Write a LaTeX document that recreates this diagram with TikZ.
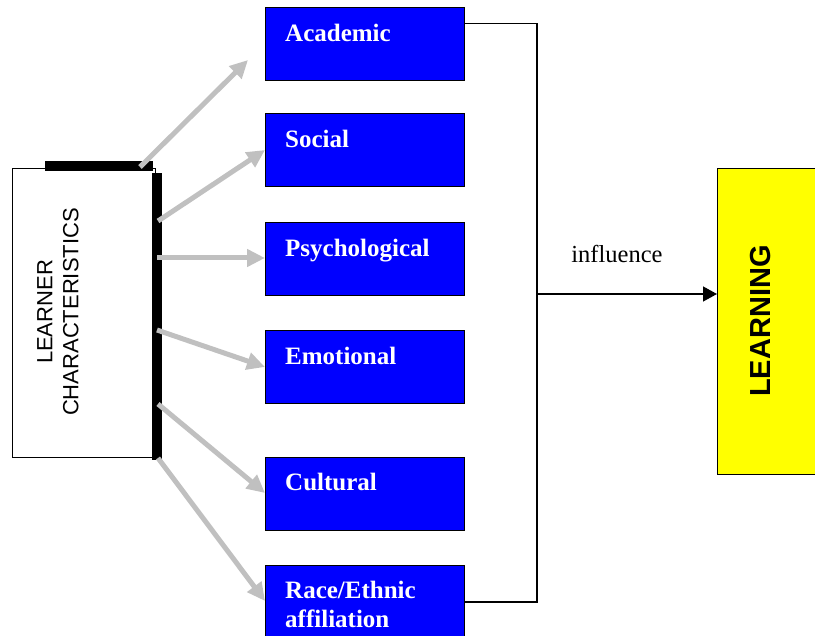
\documentclass[tikz,border=0pt]{standalone}
\usepackage{fontspec}
\setmainfont{Liberation Serif}
\setsansfont{Liberation Sans}
\usetikzlibrary{arrows.meta}
\definecolor{arrowgrey}{RGB}{192,192,192}
\definecolor{factorblue}{RGB}{0,0,255}
\definecolor{learnyellow}{RGB}{255,255,0}
\begin{document}
\begin{tikzpicture}[x=1pt,y=-1pt,
  factor/.style={draw=black, line width=1.3pt, fill=factorblue, minimum width=199pt,
    minimum height=73pt, inner sep=0pt, anchor=north west},
  factortext/.style={text=white, font=\fontsize{25}{29}\selectfont\bfseries,
    anchor=base west, align=left, inner sep=0pt},
  feed/.style={draw=arrowgrey, line width=5pt,
    -{Triangle[length=18pt,width=17pt]}},
  joinline/.style={draw=black, line width=1.3pt},
]
\useasboundingbox (0,0) rectangle (815,636);
\clip (0,0) rectangle (815,636);

% learner characteristics box with its shadow bars
\node[draw=black, line width=1.2pt, fill=white, minimum width=143pt,
  minimum height=289pt, inner sep=0pt, anchor=north west] (lc) at (12,168) {};
\node[rotate=90, align=center, inner sep=0pt,
  font=\sffamily\fontsize{22}{26}\selectfont] (lctext) at (58,312)
  {LEARNER\\CHARACTERISTICS};
\fill[black] (45,161) rectangle (153,171);
\fill[black] (152,173) rectangle (162,460);

% factor boxes
\node[factor] (acad) at (265,7) {};
\node[factor] (soc) at (265,113) {};
\node[factor] (psy) at (265,222) {};
\node[factor] (emo) at (265,330) {};
\node[factor] (cul) at (265,457) {};
\node[factor, minimum height=80pt] (race) at (265,565) {};

\node[factortext] (acadt) at (285,42) {Academic};
\node[factortext] (soct) at (285,148) {Social};
\node[factortext] (psyt) at (285,257) {Psychological};
\node[factortext] (emot) at (285,365) {Emotional};
\node[factortext] (cult) at (285,491) {Cultural};
\node[factortext] (racet) at (285,598) {Race/Ethnic};
\node[factortext] (racet2) at (285,627) {affiliation};

% learning box
\node[draw=black, line width=1.3pt, fill=learnyellow, minimum width=110pt,
  minimum height=306pt, inner sep=0pt, anchor=north west] (learn) at (717,168) {};
\node[rotate=90, inner sep=0pt, font=\sffamily\bfseries\fontsize{29}{34}\selectfont]
  (learnt) at (761,321) {LEARNING};

% grey arrows from the learner box to each factor
\coordinate (s1) at (140,167);
\coordinate (s2) at (158,221);
\coordinate (s3) at (157,258);
\coordinate (s4) at (157,330);
\coordinate (s5) at (158,404);
\coordinate (s6) at (158,458);
\coordinate (t1) at (248,60);
\coordinate (t2) at (265,150);
\draw[feed] (s1) -- (t1);
\draw[feed] (s2) -- (t2);
\draw[feed] (s3) -- (psy.west |- s3);
\draw[feed] (s4) -- (emo.west |- 0,367);
\draw[feed] (s5) -- (cul.west |- 0,493);
\draw[feed] (s6) -- (race.west |- 0,601);

% bracket joining the factors into one arrow
\coordinate (bt) at (537,23.5);
\coordinate (bb) at (537,602);
\coordinate (bm) at (537,294);
\draw[joinline] (acad.east |- bt) -- (bt) -- (bb) -- (race.east |- bb);
\draw[joinline, -{Triangle[length=14pt,width=15pt]}] (bm) -- (learn.west |- bm);
\node[inner sep=0pt, font=\fontsize{24.5}{29}\selectfont, anchor=base]
  (infl) at (617,263) {influence};
\end{tikzpicture}
\end{document}
